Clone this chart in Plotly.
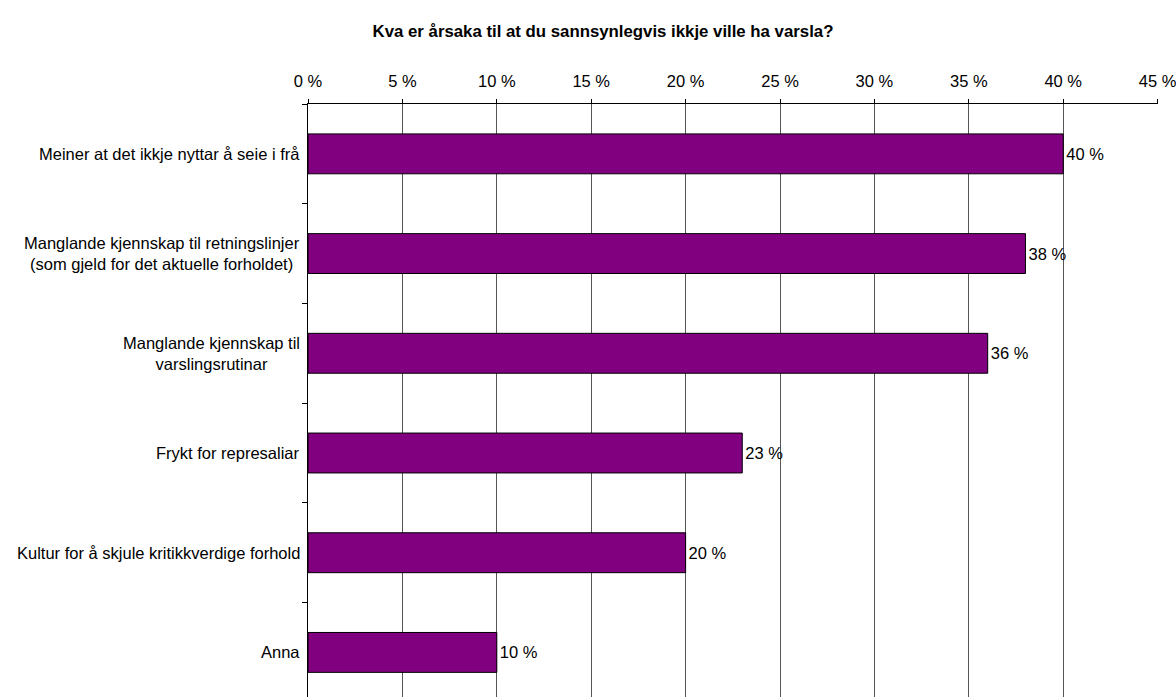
import plotly.graph_objects as go

categories = [
    "Meiner at det ikkje nyttar å seie i frå",
    "Manglande kjennskap til retningslinjer<br>(som gjeld for det aktuelle forholdet)",
    "Manglande kjennskap til<br>varslingsrutinar",
    "Frykt for represaliar",
    "Kultur for å skjule kritikkverdige forhold",
    "Anna",
]
values = [40, 38, 36, 23, 20, 10]
value_labels = ["40 %", "38 %", "36 %", "23 %", "20 %", "10 %"]
tick_vals = [0, 5, 10, 15, 20, 25, 30, 35, 40, 45]
tick_text = ["0 %", "5 %", "10 %", "15 %", "20 %", "25 %", "30 %", "35 %", "40 %", "45 %"]
title = "Kva er årsaka til at du sannsynlegvis ikkje ville ha varsla?"

FONT = "Liberation Sans, Arial, sans-serif"
FS = 16.5

fig = go.Figure()
fig.add_trace(go.Bar(
    y=categories,
    x=values,
    orientation="h",
    marker=dict(color="#800080", line=dict(color="black", width=1)),
    text=value_labels,
    textposition="outside",
    textfont=dict(family=FONT, size=FS, color="black"),
    cliponaxis=False,
    width=0.4,
))

for cat in categories:
    fig.add_annotation(
        x=0, xref="paper", y=cat, yref="y",
        text=cat, showarrow=False, xanchor="right", align="center",
        xshift=-6, font=dict(family=FONT, size=FS, color="black"),
    )

fig.update_layout(
    width=1176, height=697,
    margin=dict(l=308, r=18, t=104, b=0, autoexpand=False),
    paper_bgcolor="white", plot_bgcolor="white",
    showlegend=False,
    title=dict(text="<b>" + title + "</b>", x=603 / 1176, xanchor="center",
               y=1 - 31 / 697, yanchor="middle",
               font=dict(family=FONT, size=16.8, color="black")),
    font=dict(family=FONT, size=FS, color="black"),
)
fig.update_xaxes(
    side="top", range=[0, 45.02], tickvals=tick_vals, ticktext=tick_text,
    showgrid=True, gridcolor="#555555", gridwidth=1,
    showline=True, linecolor="black", linewidth=1,
    ticks="outside", ticklen=4, tickcolor="black", automargin=False,
    ticklabelstandoff=5, ticklabeloverflow="allow",
    zeroline=False, tickfont=dict(family=FONT, size=FS),
)
fig.update_yaxes(
    type="category", categoryorder="array", categoryarray=categories,
    range=[5.447, -0.5], showticklabels=False, automargin=False,
    showline=True, linecolor="black", linewidth=1,
    ticks="outside", tickson="boundaries", ticklen=5, tickcolor="black",
    showgrid=False, zeroline=False,
)

fig.write_html(
    "out.html",
    config={"displayModeBar": False},
    post_script="document.body.style.margin='0';document.body.style.overflow='hidden';",
)
